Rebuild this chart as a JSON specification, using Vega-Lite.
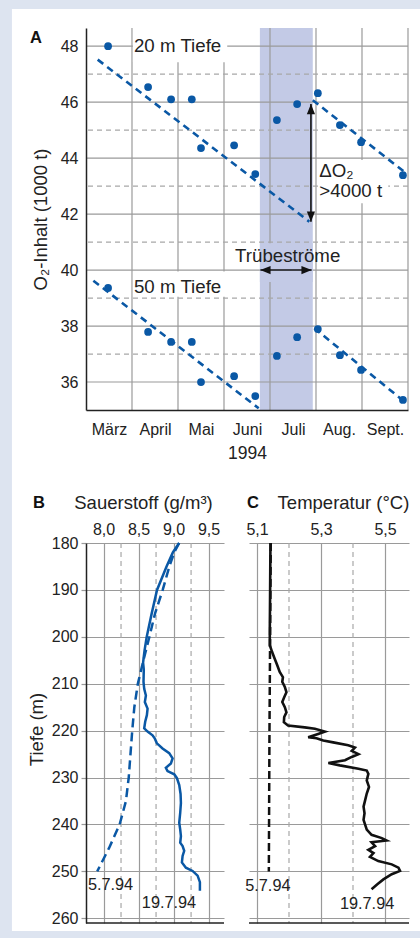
{
 "$schema": "https://vega.github.io/schema/vega-lite/v6.json",
 "background": "#dde4f0",
 "padding": {"left": 11, "top": 8, "right": 0, "bottom": 6},
 "config": {
  "font": "Liberation Sans",
  "view": {"stroke": null},
  "axis": {"labelColor": "#222", "titleColor": "#222", "titleFontWeight": "normal", "labelFontSize": 16, "titleFontSize": 18.5, "domainColor": "#222", "domainWidth": 1.5, "gridColor": "#9a9a9a", "gridWidth": 1.2, "tickColor": "#9a9a9a", "tickWidth": 1.2, "labelFlush": false, "labelOverlap": false}
 },
 "datasets": {
  "punkte": [
   {"monat": 0.48, "o2": 48.0, "tiefe": "20 m"}, {"monat": 1.35, "o2": 46.54, "tiefe": "20 m"}, {"monat": 1.85, "o2": 46.1, "tiefe": "20 m"}, {"monat": 2.30, "o2": 46.1, "tiefe": "20 m"}, {"monat": 2.50, "o2": 44.36, "tiefe": "20 m"}, {"monat": 3.22, "o2": 44.46, "tiefe": "20 m"}, {"monat": 3.68, "o2": 43.43, "tiefe": "20 m"}, {"monat": 4.15, "o2": 45.36, "tiefe": "20 m"}, {"monat": 4.59, "o2": 45.93, "tiefe": "20 m"}, {"monat": 5.04, "o2": 46.32, "tiefe": "20 m"}, {"monat": 5.52, "o2": 45.18, "tiefe": "20 m"}, {"monat": 5.98, "o2": 44.57, "tiefe": "20 m"}, {"monat": 6.89, "o2": 43.39, "tiefe": "20 m"},
   {"monat": 0.48, "o2": 39.36, "tiefe": "50 m"}, {"monat": 1.35, "o2": 37.79, "tiefe": "50 m"}, {"monat": 1.85, "o2": 37.43, "tiefe": "50 m"}, {"monat": 2.30, "o2": 37.43, "tiefe": "50 m"}, {"monat": 2.50, "o2": 36.0, "tiefe": "50 m"}, {"monat": 3.22, "o2": 36.21, "tiefe": "50 m"}, {"monat": 3.68, "o2": 35.5, "tiefe": "50 m"}, {"monat": 4.15, "o2": 36.93, "tiefe": "50 m"}, {"monat": 4.59, "o2": 37.6, "tiefe": "50 m"}, {"monat": 5.04, "o2": 37.89, "tiefe": "50 m"}, {"monat": 5.52, "o2": 36.96, "tiefe": "50 m"}, {"monat": 5.98, "o2": 36.43, "tiefe": "50 m"}, {"monat": 6.89, "o2": 35.36, "tiefe": "50 m"}
  ],
  "trend": [
   {"seg": "20a", "monat": 0.254, "o2": 47.52}, {"seg": "20a", "monat": 4.855, "o2": 41.73},
   {"seg": "20b", "monat": 4.93, "o2": 46.07}, {"seg": "20b", "monat": 6.92, "o2": 43.51},
   {"seg": "50a", "monat": 0.16, "o2": 39.62}, {"seg": "50a", "monat": 3.754, "o2": 35.06},
   {"seg": "50b", "monat": 4.964, "o2": 37.92}, {"seg": "50b", "monat": 6.92, "o2": 35.30}
  ],
  "o2_0507": [
   {"d": 180, "v": 9.08}, {"d": 182, "v": 9.01}, {"d": 185, "v": 8.94}, {"d": 190, "v": 8.845}, {"d": 195, "v": 8.736}, {"d": 200, "v": 8.655}, {"d": 205, "v": 8.57}, {"d": 210, "v": 8.49}, {"d": 215, "v": 8.44}, {"d": 220, "v": 8.41}, {"d": 225, "v": 8.385}, {"d": 230, "v": 8.36}, {"d": 235, "v": 8.32}, {"d": 240, "v": 8.23}, {"d": 245, "v": 8.08}, {"d": 250, "v": 7.91}
  ],
  "o2_1907": [
   {"d": 180, "v": 9.08}, {"d": 182, "v": 8.99}, {"d": 185, "v": 8.90}, {"d": 190, "v": 8.764}, {"d": 195, "v": 8.688}, {"d": 200, "v": 8.617}, {"d": 203, "v": 8.585}, {"d": 205.5, "v": 8.565}, {"d": 207, "v": 8.575}, {"d": 209.6, "v": 8.571}, {"d": 211.1, "v": 8.581}, {"d": 212.5, "v": 8.605}, {"d": 213.9, "v": 8.59}, {"d": 215.3, "v": 8.629}, {"d": 216.7, "v": 8.619}, {"d": 218.1, "v": 8.595}, {"d": 219.5, "v": 8.581}, {"d": 220.2, "v": 8.629}, {"d": 221, "v": 8.70}, {"d": 221.7, "v": 8.733}, {"d": 222.7, "v": 8.762}, {"d": 223.8, "v": 8.843}, {"d": 224.8, "v": 8.938}, {"d": 225.9, "v": 8.986}, {"d": 227, "v": 8.962}, {"d": 227.9, "v": 8.89}, {"d": 228.6, "v": 8.914}, {"d": 229.3, "v": 9.01}, {"d": 230.1, "v": 9.048}, {"d": 231.6, "v": 9.081}, {"d": 233.5, "v": 9.10}, {"d": 235.4, "v": 9.105}, {"d": 237.5, "v": 9.095}, {"d": 239.6, "v": 9.081}, {"d": 241.1, "v": 9.095}, {"d": 242.5, "v": 9.105}, {"d": 243.9, "v": 9.095}, {"d": 244.6, "v": 9.129}, {"d": 245.6, "v": 9.152}, {"d": 246.7, "v": 9.129}, {"d": 248.1, "v": 9.119}, {"d": 249.2, "v": 9.176}, {"d": 249.9, "v": 9.271}, {"d": 250.9, "v": 9.343}, {"d": 252.3, "v": 9.376}, {"d": 254.1, "v": 9.376}
  ],
  "t_0507": [
   {"d": 180, "v": 5.143}, {"d": 200, "v": 5.141}, {"d": 220, "v": 5.139}, {"d": 250, "v": 5.137}
  ],
  "t_1907": [
   {"d": 180, "v": 5.142}, {"d": 190, "v": 5.141}, {"d": 198.9, "v": 5.140}, {"d": 201.8, "v": 5.140}, {"d": 203.2, "v": 5.147}, {"d": 204.6, "v": 5.155}, {"d": 206, "v": 5.163}, {"d": 207.5, "v": 5.171}, {"d": 208.6, "v": 5.181}, {"d": 209.6, "v": 5.179}, {"d": 210.7, "v": 5.187}, {"d": 211.8, "v": 5.192}, {"d": 212.9, "v": 5.185}, {"d": 213.9, "v": 5.179}, {"d": 215, "v": 5.187}, {"d": 216.1, "v": 5.192}, {"d": 217.1, "v": 5.185}, {"d": 218.2, "v": 5.184}, {"d": 218.9, "v": 5.197}, {"d": 219.3, "v": 5.249}, {"d": 219.6, "v": 5.281}, {"d": 220.2, "v": 5.312}, {"d": 220.7, "v": 5.291}, {"d": 221.4, "v": 5.26}, {"d": 221.6, "v": 5.286}, {"d": 222.1, "v": 5.307}, {"d": 222.5, "v": 5.338}, {"d": 223.1, "v": 5.385}, {"d": 223.6, "v": 5.406}, {"d": 224.3, "v": 5.396}, {"d": 225, "v": 5.417}, {"d": 225.6, "v": 5.396}, {"d": 226.3, "v": 5.375}, {"d": 226.9, "v": 5.323}, {"d": 227.4, "v": 5.359}, {"d": 228.1, "v": 5.417}, {"d": 228.5, "v": 5.443}, {"d": 229.2, "v": 5.448}, {"d": 230.6, "v": 5.443}, {"d": 232, "v": 5.45}, {"d": 233.4, "v": 5.443}, {"d": 234.8, "v": 5.438}, {"d": 236.2, "v": 5.433}, {"d": 237.6, "v": 5.436}, {"d": 239, "v": 5.433}, {"d": 241.1, "v": 5.443}, {"d": 242.2, "v": 5.458}, {"d": 242.9, "v": 5.49}, {"d": 243.4, "v": 5.505}, {"d": 243.8, "v": 5.458}, {"d": 244.6, "v": 5.469}, {"d": 245.4, "v": 5.448}, {"d": 246.1, "v": 5.464}, {"d": 246.9, "v": 5.453}, {"d": 247.8, "v": 5.479}, {"d": 248.5, "v": 5.521}, {"d": 249.2, "v": 5.542}, {"d": 249.9, "v": 5.547}, {"d": 250.6, "v": 5.521}, {"d": 251.7, "v": 5.495}, {"d": 252.7, "v": 5.477}, {"d": 253.8, "v": 5.458}
  ]
 },
 "spacing": 133,
 "bounds": "flush",
 "vconcat": [
  {
   "width": 322,
   "height": 382,
   "layer": [
    {
     "data": {"values": [{}]},
     "mark": {"type": "rect", "color": "#ffffff", "clip": false},
     "encoding": {
      "x": {"datum": -1.61, "type": "quantitative", "scale": {"domain": [0, 7], "nice": false, "zero": false},
       "axis": {"values": [0.5, 1.5, 2.5, 3.5, 4.5, 5.5, 6.5], "labelExpr": "['März','April','Mai','Juni','Juli','Aug.','Sept.'][floor(datum.value)]", "grid": false, "ticks": false, "tickSize": 0, "labelPadding": 24, "labelBaseline": "alphabetic", "title": "1994", "titleY": 48, "titleBaseline": "alphabetic", "titleFontSize": 17.5, "zindex": 1}},
      "x2": {"datum": 7.28},
      "y": {"datum": 49.33, "type": "quantitative", "scale": {"domain": [35, 48.65], "nice": false, "zero": false},
       "axis": {"values": [36, 38, 40, 42, 44, 46, 48], "grid": false, "ticks": false, "tickSize": 0, "labelPadding": 8, "title": "O₂-Inhalt (1000 t)", "titleX": -40, "titleBaseline": "alphabetic", "zindex": 1}},
      "y2": {"datum": 16.38}
     }
    },
    {
     "data": {"values": [{"beginn": 3.78, "ende": 4.93}]},
     "mark": {"type": "rect", "color": "#c3cae6"},
     "encoding": {
      "x": {"field": "beginn", "type": "quantitative"},
      "x2": {"field": "ende"},
      "y": {"datum": 35, "type": "quantitative"},
      "y2": {"datum": 48.65}
     }
    },
    {
     "data": {"values": [{"m": 1}, {"m": 2}, {"m": 3}, {"m": 4}, {"m": 5}, {"m": 6}, {"m": 7}]},
     "mark": {"type": "rule", "color": "#9a9a9a", "strokeWidth": 1.2},
     "encoding": {"x": {"field": "m", "type": "quantitative"}}
    },
    {
     "data": {"values": [{"g": 36}, {"g": 38}, {"g": 40}, {"g": 42}, {"g": 44}, {"g": 46}, {"g": 48}]},
     "mark": {"type": "rule", "color": "#9a9a9a", "strokeWidth": 1.2},
     "encoding": {"y": {"field": "g", "type": "quantitative"}}
    },
    {
     "data": {"values": [{"g": 37}, {"g": 39}, {"g": 41}, {"g": 43}, {"g": 45}, {"g": 47}]},
     "mark": {"type": "rule", "color": "#a8a8a8", "strokeWidth": 1.2, "strokeDash": [5, 4]},
     "encoding": {"y": {"field": "g", "type": "quantitative"}}
    },
    {
     "data": {"values": [{"x1": 1.02, "x2": 3.07, "y1": 47.43, "y2": 48.65}, {"x1": 1.02, "x2": 3.07, "y1": 39.05, "y2": 39.95}, {"x1": 5.05, "x2": 6.57, "y1": 42.39, "y2": 43.93}]},
     "mark": {"type": "rect", "color": "#ffffff"},
     "encoding": {"x": {"field": "x1", "type": "quantitative"}, "x2": {"field": "x2"}, "y": {"field": "y1", "type": "quantitative"}, "y2": {"field": "y2"}}
    },
    {
     "data": {"values": [{"x1": 3.78, "x2": 4.93, "y1": 39.57, "y2": 40.96}]},
     "mark": {"type": "rect", "color": "#c3cae6"},
     "encoding": {"x": {"field": "x1", "type": "quantitative"}, "x2": {"field": "x2"}, "y": {"field": "y1", "type": "quantitative"}, "y2": {"field": "y2"}}
    },
    {
     "data": {"name": "trend"},
     "mark": {"type": "line", "color": "#0a58a5", "strokeWidth": 2.6, "strokeDash": [7, 5]},
     "encoding": {"x": {"field": "monat", "type": "quantitative"}, "y": {"field": "o2", "type": "quantitative"}, "detail": {"field": "seg"}}
    },
    {
     "data": {"name": "punkte"},
     "mark": {"type": "point", "filled": true, "opacity": 1, "size": 60, "color": "#0a58a5"},
     "encoding": {"x": {"field": "monat", "type": "quantitative"}, "y": {"field": "o2", "type": "quantitative"}}
    },
    {
     "data": {"values": [{"x": 4.89, "lo": 41.73, "hi": 45.93}]},
     "mark": {"type": "rule", "color": "#111111", "strokeWidth": 1.6},
     "encoding": {"x": {"field": "x", "type": "quantitative"}, "y": {"field": "lo", "type": "quantitative"}, "y2": {"field": "hi"}}
    },
    {
     "data": {"values": [{"a": 3.79, "b": 4.906, "y": 40}]},
     "mark": {"type": "rule", "color": "#111111", "strokeWidth": 1.6},
     "encoding": {"x": {"field": "a", "type": "quantitative"}, "x2": {"field": "b"}, "y": {"field": "y", "type": "quantitative"}}
    },
    {
     "data": {"values": [{"x": 4.89, "y": 45.93, "dir": "up"}, {"x": 4.89, "y": 41.73, "dir": "down"}, {"x": 3.79, "y": 40, "dir": "left"}, {"x": 4.906, "y": 40, "dir": "right"}]},
     "mark": {"type": "point", "filled": true, "opacity": 1, "size": 420, "color": "#111111"},
     "encoding": {
      "x": {"field": "x", "type": "quantitative"},
      "y": {"field": "y", "type": "quantitative"},
      "shape": {"field": "dir", "type": "nominal", "legend": null, "scale": {"domain": ["up", "down", "left", "right"], "range": ["M0,0L-0.4,1L0.4,1Z", "M0,0L-0.4,-1L0.4,-1Z", "M0,0L1,-0.4L1,0.4Z", "M0,0L-1,-0.4L-1,0.4Z"]}}
     }
    },
    {
     "data": {"values": [{"t": "20 m Tiefe", "x": 1.043, "y": 47.8}, {"t": "50 m Tiefe", "x": 1.043, "y": 39.17}, {"t": "Trübeströme", "x": 3.24, "y": 40.3}, {"t": "ΔO₂", "x": 5.07, "y": 43.33}, {"t": ">4000 t", "x": 5.07, "y": 42.62}]},
     "mark": {"type": "text", "align": "left", "baseline": "alphabetic", "fontSize": 18.7, "color": "#222222"},
     "encoding": {"x": {"field": "x", "type": "quantitative"}, "y": {"field": "y", "type": "quantitative"}, "text": {"field": "t"}}
    },
    {
     "data": {"values": [{}]},
     "mark": {"type": "text", "text": "A", "align": "left", "baseline": "alphabetic", "fontSize": 16.5, "fontWeight": "bold", "color": "#111111", "clip": false},
     "encoding": {"x": {"datum": -1.217, "type": "quantitative"}, "y": {"datum": 48.114, "type": "quantitative"}}
    }
   ]
  },
  {
   "spacing": 25,
   "bounds": "flush",
   "hconcat": [
    {
     "width": 138,
     "height": 380,
     "layer": [
      {
       "data": {"values": [{"v": 8.25}, {"v": 8.75}, {"v": 9.25}]},
       "mark": {"type": "rule", "color": "#a8a8a8", "strokeWidth": 1.2, "strokeDash": [5, 4]},
       "encoding": {"x": {"field": "v", "type": "quantitative", "scale": {"domain": [7.75, 9.72], "nice": false, "zero": false},
        "axis": {"orient": "top", "values": [8, 8.5, 9, 9.5], "labelExpr": "replace(format(datum.value, '.1f'), '.', ',')", "grid": true, "domain": false, "ticks": false, "tickSize": 0, "labelPadding": 9, "labelBaseline": "alphabetic", "title": "Sauerstoff (g/m³)", "titleX": 57, "titleY": -35, "titleAlign": "center", "titleBaseline": "alphabetic"}}}
      },
      {
       "data": {"values": [{}]},
       "mark": {"type": "rule", "color": "#222222", "strokeWidth": 1.5},
       "encoding": {"y": {"datum": 261, "type": "quantitative", "scale": {"domain": [180, 261], "reverse": true, "nice": false, "zero": false},
        "axis": {"values": [180, 190, 200, 210, 220, 230, 240, 250, 260], "grid": true, "domain": true, "ticks": true, "tickSize": 5, "labelPadding": 3, "title": "Tiefe (m)", "titleX": -43.5, "titleY": 186, "titleBaseline": "alphabetic"}}}
      },
      {
       "data": {"name": "o2_0507"},
       "mark": {"type": "line", "color": "#0a58a5", "strokeWidth": 2.5, "strokeDash": [9, 5]},
       "encoding": {"x": {"field": "v", "type": "quantitative"}, "y": {"field": "d", "type": "quantitative"}, "order": {"field": "d", "type": "quantitative"}}
      },
      {
       "data": {"name": "o2_1907"},
       "mark": {"type": "line", "color": "#0a58a5", "strokeWidth": 2.5},
       "encoding": {"x": {"field": "v", "type": "quantitative"}, "y": {"field": "d", "type": "quantitative"}, "order": {"field": "d", "type": "quantitative"}}
      },
      {
       "data": {"values": [{"t": "5.7.94", "x": 8.10, "y": 254.03}, {"t": "19.7.94", "x": 8.935, "y": 257.74}]},
       "mark": {"type": "text", "align": "center", "baseline": "alphabetic", "fontSize": 16.3, "color": "#222222"},
       "encoding": {"x": {"field": "x", "type": "quantitative"}, "y": {"field": "y", "type": "quantitative"}, "text": {"field": "t"}}
      },
      {
       "data": {"values": [{}]},
       "mark": {"type": "text", "text": "B", "align": "left", "baseline": "alphabetic", "fontSize": 16.5, "fontWeight": "bold", "color": "#111111", "clip": false},
       "encoding": {"x": {"datum": 6.993, "type": "quantitative"}, "y": {"datum": 172.54, "type": "quantitative"}}
      }
     ]
    },
    {
     "width": 160,
     "height": 380,
     "layer": [
      {
       "data": {"values": [{"v": 5.2}, {"v": 5.4}]},
       "mark": {"type": "rule", "color": "#a8a8a8", "strokeWidth": 1.2, "strokeDash": [5, 4]},
       "encoding": {"x": {"field": "v", "type": "quantitative", "scale": {"domain": [5.075, 5.575], "nice": false, "zero": false},
        "axis": {"orient": "top", "values": [5.1, 5.3, 5.5], "labelExpr": "replace(format(datum.value, '.1f'), '.', ',')", "grid": true, "domain": false, "ticks": false, "tickSize": 0, "labelPadding": 9, "labelBaseline": "alphabetic", "title": "Temperatur (°C)", "titleX": 94, "titleY": -35, "titleAlign": "center", "titleBaseline": "alphabetic"}}}
      },
      {
       "data": {"values": [{}]},
       "mark": {"type": "rule", "color": "#222222", "strokeWidth": 1.5},
       "encoding": {"y": {"datum": 261, "type": "quantitative", "scale": {"domain": [180, 261], "reverse": true, "nice": false, "zero": false},
        "axis": {"values": [180, 190, 200, 210, 220, 230, 240, 250, 260], "grid": true, "domain": false, "ticks": false, "labels": false, "title": null}}}
      },
      {
       "data": {"name": "t_0507"},
       "mark": {"type": "line", "color": "#111111", "strokeWidth": 2.5, "strokeDash": [8, 4]},
       "encoding": {"x": {"field": "v", "type": "quantitative"}, "y": {"field": "d", "type": "quantitative"}, "order": {"field": "d", "type": "quantitative"}}
      },
      {
       "data": {"name": "t_1907"},
       "mark": {"type": "line", "color": "#111111", "strokeWidth": 2.6},
       "encoding": {"x": {"field": "v", "type": "quantitative"}, "y": {"field": "d", "type": "quantitative"}, "order": {"field": "d", "type": "quantitative"}}
      },
      {
       "data": {"values": [{"t": "5.7.94", "x": 5.134, "y": 254.18}, {"t": "19.7.94", "x": 5.444, "y": 258.08}]},
       "mark": {"type": "text", "align": "center", "baseline": "alphabetic", "fontSize": 16.3, "color": "#222222"},
       "encoding": {"x": {"field": "x", "type": "quantitative"}, "y": {"field": "y", "type": "quantitative"}, "text": {"field": "t"}}
      },
      {
       "data": {"values": [{}]},
       "mark": {"type": "text", "text": "C", "align": "left", "baseline": "alphabetic", "fontSize": 16.5, "fontWeight": "bold", "color": "#111111", "clip": false},
       "encoding": {"x": {"datum": 5.069, "type": "quantitative"}, "y": {"datum": 172.54, "type": "quantitative"}}
      }
     ]
    }
   ]
  }
 ]
}
